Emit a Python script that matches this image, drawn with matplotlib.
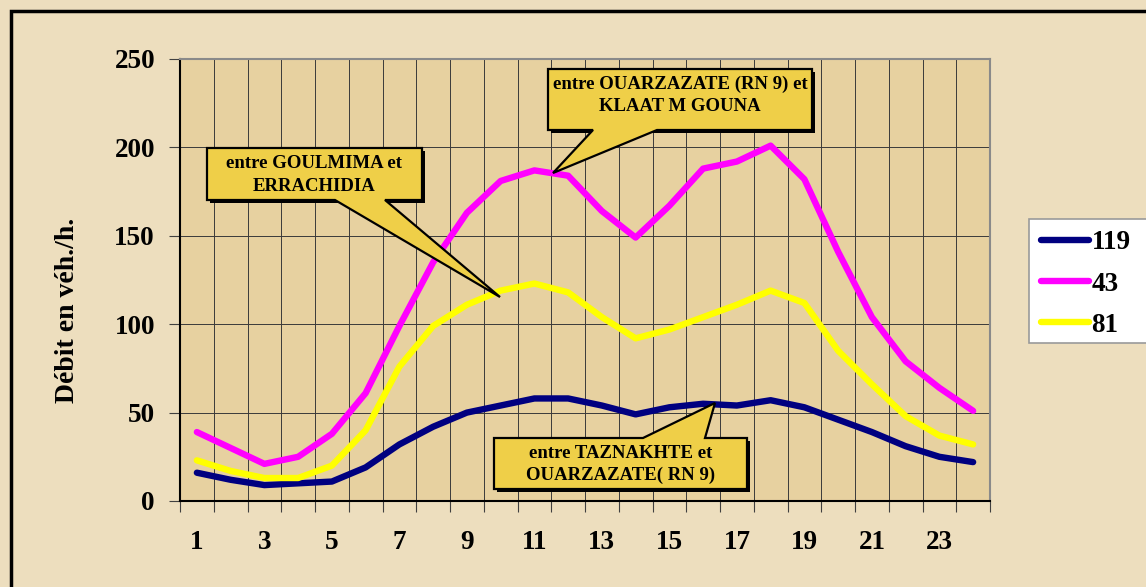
import numpy as np
import matplotlib
matplotlib.use("Agg")
import matplotlib.pyplot as plt
from matplotlib.patches import Polygon, Rectangle

plt.rcParams['font.family'] = ['Liberation Serif', 'DejaVu Serif']
plt.rcParams['font.weight'] = 'bold'

# hours of the day
hours = np.arange(1, 25)
xtick_labels = [str(h) for h in range(1, 24, 2)]

# hourly traffic (veh/h) per road
route_119 = [16, 12, 9, 10, 11, 19, 32, 42, 50, 54, 58, 58,
             54, 49, 53, 55, 54, 57, 53, 46, 39, 31, 25, 22]
route_43 = [39, 30, 21, 25, 38, 61, 99, 135, 163, 181, 187, 184,
            164, 149, 167, 188, 192, 201, 182, 141, 104, 79, 64, 51]
route_81 = [23, 17, 13, 13, 20, 40, 76, 99, 111, 119, 123, 118,
            104, 92, 97, 104, 111, 119, 112, 85, 66, 48, 37, 32]

series_names = ['119', '43', '81']
series_colors = ['#000080', '#FF00FF', '#FFFF00']

W, H = 1146, 587
fig = plt.figure(figsize=(W / 100, H / 100), dpi=100)
fig.patch.set_facecolor('#EDDEBE')

def px(x, y):
    # figure pixel (top-left origin) -> figure fraction
    return (x / W, 1 - y / H)

# outer frame (right/bottom edges run off the image)
fig.patches.append(Rectangle(px(11, 600), (W + 20) / W, (600 - 11) / H,
                             transform=fig.transFigure, fill=False,
                             edgecolor='black', linewidth=2.5, zorder=-2))

# legend box (cut by the right edge)
fig.patches.append(Rectangle(px(1029, 343), 140 / W, (343 - 219) / H,
                             transform=fig.transFigure, facecolor='white',
                             edgecolor='#9a9a9a', linewidth=1.2, zorder=-1))

ax = fig.add_axes([180 / W, 1 - 501 / H, 810 / W, 442 / H])
ax.set_facecolor('#E7D1A0')

for vals, name, col in zip([route_119, route_43, route_81], series_names, series_colors):
    ax.plot(hours, vals, color=col, linewidth=4.6, label=name,
            solid_capstyle='round', solid_joinstyle='round', zorder=3)

ax.set_xlim(0.5, 24.5)
ax.set_ylim(0, 250)
ax.set_xticks(range(1, 24, 2))
ax.set_xticklabels(xtick_labels)
ax.set_xticks(np.arange(0.5, 25, 1), minor=True)
ax.set_yticks(range(0, 251, 50))

ax.tick_params(axis='x', which='major', length=0, pad=21, labelsize=19.5)
ax.tick_params(axis='x', which='minor', length=8, direction='out', width=0.8, color='#404040')
ax.tick_params(axis='y', length=8, direction='out', width=0.8, color='#404040', pad=10, labelsize=19.5)
ax.grid(True, axis='x', which='minor', color='#3a3a3a', linewidth=0.7)
ax.grid(True, axis='y', which='major', color='#3a3a3a', linewidth=0.7)
ax.set_axisbelow(True)

for s in ['top', 'right']:
    ax.spines[s].set_color('#8a8a8a')
    ax.spines[s].set_linewidth(1.5)
for s in ['left', 'bottom']:
    ax.spines[s].set_color('black')
    ax.spines[s].set_linewidth(1.5)

ax.set_ylabel('Débit en véh./h.', fontsize=20, fontweight='bold')
ax.yaxis.set_label_coords(-0.124, 0.432)

# callouts: box (x0, y0, x1, y1), wedge base (b1, b2), tip, side, text shift
callouts = [
    ('entre OUARZAZATE (RN 9) et\nKLAAT M GOUNA', (548, 69, 812, 130), (593, 657), (553, 173), 'bottom', -4),
    ('entre GOULMIMA et\nERRACHIDIA', (207, 148, 422, 200), (335, 385), (500, 297), 'bottom', 1),
    ('entre TAZNAKHTE et\nOUARZAZATE( RN 9)', (494, 438, 747, 489), (643, 705), (715, 403), 'top', 1),
]

for text, (x0, y0, x1, y1), (b1, b2), tip, side, dy in callouts:
    if side == 'bottom':
        pts = [(x0, y0), (x1, y0), (x1, y1), (b2, y1), tip, (b1, y1), (x0, y1)]
    else:
        pts = [(x0, y0), (b1, y0), tip, (b2, y0), (x1, y0), (x1, y1), (x0, y1)]
    shadow = Rectangle(px(x0 + 3, y1 + 3), (x1 - x0) / W, (y1 - y0) / H,
                       transform=fig.transFigure, facecolor='black', edgecolor='none', zorder=5)
    body = Polygon([px(x, y) for x, y in pts], closed=True,
                   transform=fig.transFigure, facecolor='#EFCF48', edgecolor='black',
                   linewidth=1.6, joinstyle='miter', zorder=6)
    fig.patches.extend([shadow, body])
    cx, cy = px((x0 + x1) / 2, (y0 + y1) / 2 + dy)
    fig.text(cx, cy, text, ha='center', va='center', fontsize=13.5, fontweight='bold',
             linespacing=1.4, zorder=7)

leg = fig.legend(loc='upper left', bbox_to_anchor=px(1036, 225), bbox_transform=fig.transFigure,
                 frameon=False, fontsize=19.5, handlelength=1.75, handletextpad=0.1,
                 labelspacing=0.6, borderaxespad=0, borderpad=0.2)

fig.savefig('out.png', dpi=100, facecolor=fig.get_facecolor())
